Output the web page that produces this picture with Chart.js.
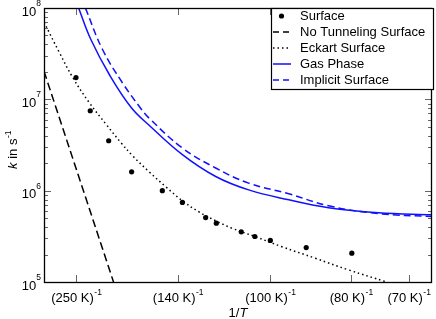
<!DOCTYPE html>
<html>
<head>
<meta charset="utf-8">
<script src="https://cdn.jsdelivr.net/npm/chart.js@4.4.0/dist/chart.umd.min.js"></script>
<style>
html, body { margin: 0; padding: 0; background: #fff; }
</style>
</head>
<body>
<canvas id="myChart" width="436" height="319"></canvas>
<script>
'use strict';

// x values are inverse temperatures (1/K), y values are rate constants in s^-1

// surface points (dots)
let surfaceX = [0.00399, 0.00443, 0.00500, 0.00571, 0.00666, 0.00728, 0.00800, 0.00833, 0.00910, 0.00952, 0.01000, 0.01111, 0.01252];
let surfaceY = [1.73e7, 7.5e6, 3.52e6, 1.61e6, 1.0e6, 7.43e5, 5.08e5, 4.41e5, 3.54e5, 3.15e5, 2.85e5, 2.38e5, 2.07e5];

// no tunneling surface (black dashed)
let noTunX = [0.00300, 0.00515];
let noTunY = [2.03e7, 1.0e5];

// eckart surface (black dotted)
let eckartX = [0.00300, 0.00348, 0.00389, 0.00440, 0.00493, 0.00538, 0.00574, 0.00625, 0.00677, 0.00728, 0.00779, 0.00831, 0.00882, 0.00954, 0.01036, 0.01139, 0.01241, 0.01360];
let eckartY = [7.0e7, 3.23e7, 1.73e7, 9.2e6, 5.28e6, 3.35e6, 2.41e6, 1.61e6, 1.10e6, 7.74e5, 5.87e5, 4.68e5, 3.87e5, 3.13e5, 2.43e5, 1.82e5, 1.36e5, 1.0e5];

// gas phase (blue solid)
let gasX = [0.00407, 0.00445, 0.00502, 0.00569, 0.00625, 0.00728, 0.00831, 0.00933, 0.01057, 0.01180, 0.01334, 0.01500];
let gasY = [1.0e8, 4.52e7, 1.87e7, 8.2e6, 5.21e6, 2.48e6, 1.43e6, 1.02e6, 7.94e5, 6.5e5, 5.73e5, 5.45e5];

// implicit surface (blue dashed)
let implicitX = [0.00428, 0.00481, 0.00543, 0.00600, 0.00625, 0.00728, 0.00831, 0.00933, 0.01057, 0.01180, 0.01334, 0.01500];
let implicitY = [1.0e8, 3.51e7, 1.51e7, 7.9e6, 6.22e6, 2.93e6, 1.77e6, 1.21e6, 9.25e5, 6.83e5, 5.61e5, 5.21e5];

// legend names
let seriesNames = ['Surface', 'No Tunneling Surface', 'Eckart Surface', 'Gas Phase', 'Implicit Surface'];

// tick labels
let xTickTemps = ['250', '140', '100', '80', '70'];
let xTickValues = [0.004, 0.0071429, 0.01, 0.0125, 0.0142857];
let yTickValues = [1e5, 1e6, 1e7, 1e8];
let yTickExps = ['5', '6', '7', '8'];

const FONT = '"Liberation Sans", Arial, sans-serif';
const BLUE = '#1010ff';

//zip two arrays into {x, y} points
function pts(xs, ys) {
    let out = [];
    for (let i = 0; i < xs.length; i++) {
        out.push({x: xs[i], y: ys[i]});
    }
    return out;
}

//draws frame, ticks, tick labels, axis titles and the legend box
const decorPlugin = {
    id: 'decor',
    afterDraw(chart) {
        const ctx = chart.ctx;
        const a = chart.chartArea;
        const xs = chart.scales.x;
        const ys = chart.scales.y;
        ctx.save();

        //tick marks
        ctx.strokeStyle = '#666';
        ctx.lineWidth = 1;
        ctx.beginPath();
        for (let i = 0; i < xTickValues.length; i++) {
            let px = Math.round(xs.getPixelForValue(xTickValues[i])) + 0.5;
            ctx.moveTo(px, a.bottom); ctx.lineTo(px, a.bottom - 7);
            ctx.moveTo(px, a.top); ctx.lineTo(px, a.top + 7);
        }
        for (let n = 5; n < 8; n++) {
            for (let m = 1; m < 10; m++) {
                if (n === 5 && m === 1) continue;
                let py = Math.round(ys.getPixelForValue(m * Math.pow(10, n))) + 0.5;
                let len = m === 1 ? 7 : 4;
                ctx.moveTo(a.left, py); ctx.lineTo(a.left + len, py);
                ctx.moveTo(a.right, py); ctx.lineTo(a.right - len, py);
            }
        }
        ctx.stroke();

        //frame
        ctx.strokeStyle = '#000';
        ctx.lineWidth = 1.3;
        ctx.strokeRect(a.left + 0.5, a.top + 0.5, a.right - a.left - 1, a.bottom - a.top);

        //x tick labels like (250 K)^-1
        ctx.fillStyle = '#000';
        ctx.textBaseline = 'alphabetic';
        ctx.textAlign = 'left';
        for (let i = 0; i < xTickValues.length; i++) {
            let px = xs.getPixelForValue(xTickValues[i]);
            let main = '(' + xTickTemps[i] + ' K)';
            ctx.font = '13px ' + FONT;
            let w1 = ctx.measureText(main).width;
            ctx.font = '8.5px ' + FONT;
            let w2 = ctx.measureText('-1').width;
            let start = px - (w1 + w2) / 2;
            ctx.font = '13px ' + FONT;
            ctx.fillText(main, start, 301.5);
            ctx.font = '8.5px ' + FONT;
            ctx.fillText('-1', start + w1 + 0.5, 294.5);
        }

        //y tick labels like 10^5
        for (let i = 0; i < yTickValues.length; i++) {
            let py = ys.getPixelForValue(yTickValues[i]);
            ctx.font = '8.5px ' + FONT;
            let we = ctx.measureText(yTickExps[i]).width;
            ctx.font = '13px ' + FONT;
            let wb = ctx.measureText('10').width;
            let right = a.left - 3;
            ctx.fillText('10', right - we - wb, py + 7.5);
            ctx.font = '8.5px ' + FONT;
            ctx.fillText(yTickExps[i], right - we, py - 2);
        }

        //x title 1/T
        ctx.font = '13px ' + FONT;
        let t1 = ctx.measureText('1/').width;
        ctx.font = 'italic 13px ' + FONT;
        let t2 = ctx.measureText('T').width;
        let cx = (a.left + a.right) / 2 - (t1 + t2) / 2;
        ctx.font = '13px ' + FONT;
        ctx.fillText('1/', cx, 317);
        ctx.font = 'italic 13px ' + FONT;
        ctx.fillText('T', cx + t1, 317);

        //y title k in s^-1
        ctx.save();
        ctx.translate(17, 150);
        ctx.rotate(-Math.PI / 2);
        ctx.font = 'italic 13px ' + FONT;
        let k1 = ctx.measureText('k').width;
        ctx.font = '13px ' + FONT;
        let k2 = ctx.measureText(' in s').width;
        ctx.font = '8.5px ' + FONT;
        let k3 = ctx.measureText('-1').width;
        let sx = -(k1 + k2 + k3) / 2;
        ctx.font = 'italic 13px ' + FONT;
        ctx.fillText('k', sx, 0);
        ctx.font = '13px ' + FONT;
        ctx.fillText(' in s', sx + k1, 0);
        ctx.font = '8.5px ' + FONT;
        ctx.fillText('-1', sx + k1 + k2 + 0.5, -6);
        ctx.restore();

        //legend box
        ctx.fillStyle = '#fff';
        ctx.fillRect(271.5, 8.5, 162, 81);
        ctx.strokeStyle = '#000';
        ctx.lineWidth = 1.2;
        ctx.strokeRect(271.5, 8.5, 162, 81);
        let ds = chart.data.datasets;
        for (let i = 0; i < ds.length; i++) {
            let ry = 16 + i * 16;
            if (i === 0) {
                ctx.fillStyle = '#000';
                ctx.beginPath();
                ctx.arc(281.5, ry, 2.6, 0, Math.PI * 2);
                ctx.fill();
            } else {
                ctx.strokeStyle = ds[i].borderColor;
                ctx.lineWidth = ds[i].borderWidth;
                ctx.setLineDash(ds[i].legendDash);
                ctx.beginPath();
                ctx.moveTo(273, ry);
                ctx.lineTo(291, ry);
                ctx.stroke();
                ctx.setLineDash([]);
            }
            ctx.fillStyle = '#000';
            ctx.font = '13px ' + FONT;
            ctx.textBaseline = 'middle';
            ctx.fillText(ds[i].label, 300, ry + 0.5);
        }
        ctx.restore();
    }
};

const ctx = document.getElementById('myChart').getContext('2d');

const myChart = new Chart(ctx, {
    type: 'scatter',
    data: {
        datasets: [
            {
                label: seriesNames[0],
                data: pts(surfaceX, surfaceY),
                showLine: false,
                pointRadius: 2.6,
                pointBorderWidth: 0,
                backgroundColor: '#000',
                borderColor: '#000',
                borderWidth: 0,
                legendDash: []
            },
            {
                label: seriesNames[1],
                data: pts(noTunX, noTunY),
                showLine: true,
                pointRadius: 0,
                borderColor: '#000',
                borderWidth: 1.5,
                borderDash: [8, 4],
                legendDash: [6, 4]
            },
            {
                label: seriesNames[2],
                data: pts(eckartX, eckartY),
                showLine: true,
                pointRadius: 0,
                borderColor: '#000',
                borderWidth: 1.5,
                borderDash: [1.5, 3],
                tension: 0.4,
                legendDash: [1.5, 3]
            },
            {
                label: seriesNames[3],
                data: pts(gasX, gasY),
                showLine: true,
                pointRadius: 0,
                borderColor: BLUE,
                borderWidth: 1.5,
                tension: 0.4,
                legendDash: []
            },
            {
                label: seriesNames[4],
                data: pts(implicitX, implicitY),
                showLine: true,
                pointRadius: 0,
                borderColor: BLUE,
                borderWidth: 1.5,
                borderDash: [7, 4],
                tension: 0.4,
                legendDash: [6, 4]
            }
        ]
    },
    options: {
        responsive: false,
        animation: false,
        layout: { padding: { top: 8, right: 2, left: 0, bottom: 0 } },
        plugins: {
            legend: { display: false },
            tooltip: { enabled: false }
        },
        scales: {
            x: {
                type: 'linear',
                min: 0.003,
                max: 0.015,
                grid: { display: false, drawTicks: false },
                border: { display: false },
                ticks: { display: false },
                afterBuildTicks: function (scale) {
                    scale.ticks = xTickValues.map(v => ({value: v}));
                },
                afterFit: function (scale) { scale.height = 37; }
            },
            y: {
                type: 'logarithmic',
                min: 1e5,
                max: 1e8,
                grid: { display: false, drawTicks: false },
                border: { display: false },
                ticks: { display: false },
                afterBuildTicks: function (scale) {
                    scale.ticks = yTickValues.map(v => ({value: v}));
                },
                afterFit: function (scale) { scale.width = 44; }
            }
        }
    },
    plugins: [decorPlugin]
});
</script>
</body>
</html>
